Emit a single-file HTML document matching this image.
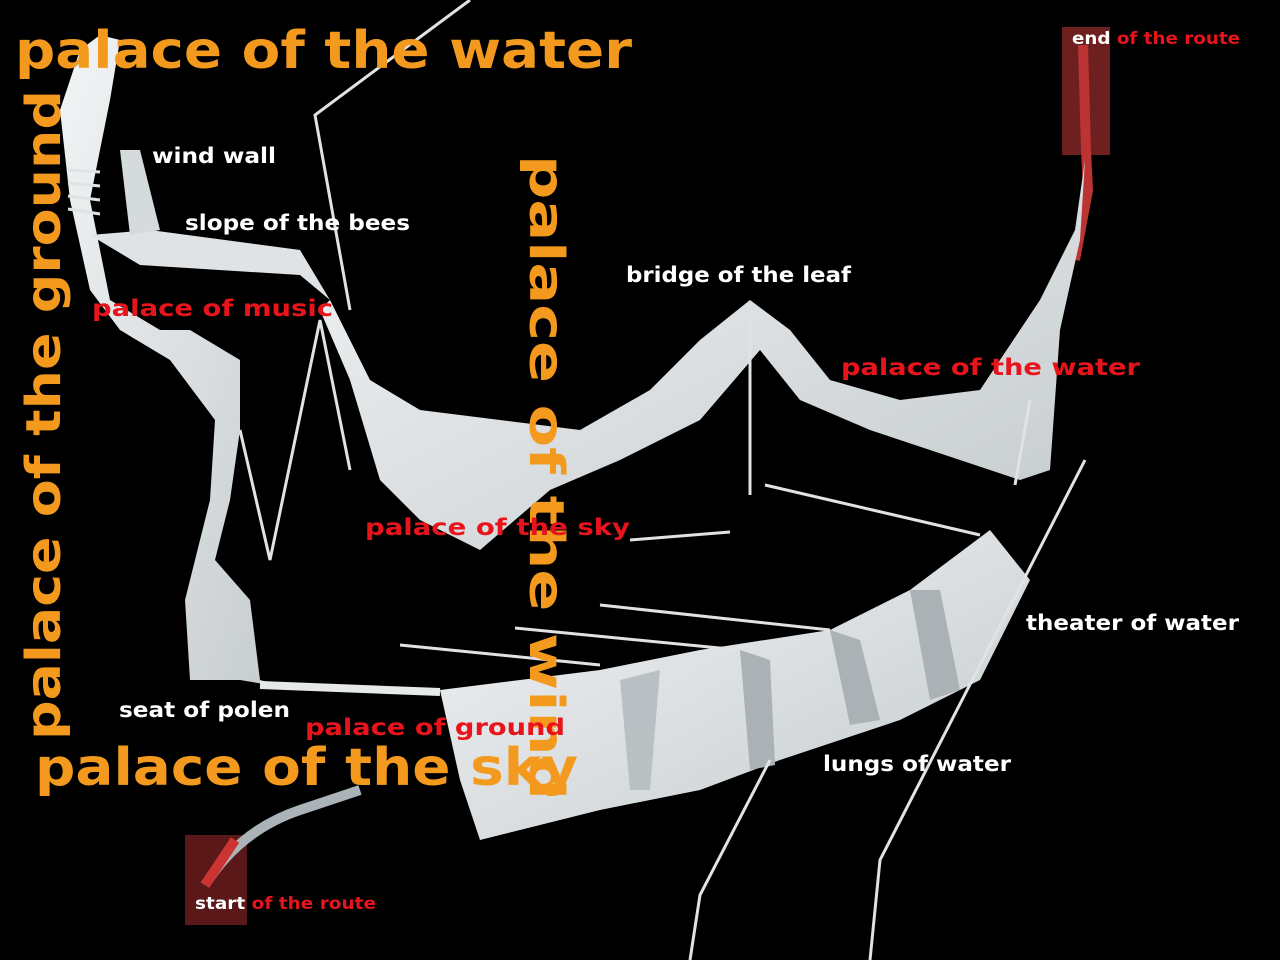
<!DOCTYPE html>
<html><head><meta charset="utf-8"><style>
html,body{margin:0;padding:0;background:#000;width:1280px;height:960px;overflow:hidden}
svg{display:block}
text{font-family:"DejaVu Sans","Liberation Sans",sans-serif;font-weight:bold}
.o{fill:#f39a1e}
.w{fill:#fff;font-size:21px}
.r{fill:#e8141c;font-size:23px}
</style></head><body>
<svg width="1280" height="960" viewBox="0 0 1280 960" xmlns="http://www.w3.org/2000/svg">
<defs>
<linearGradient id="g" x1="0" y1="0" x2="1" y2="1">
<stop offset="0" stop-color="#f2f4f5"/><stop offset="1" stop-color="#c4cacd"/></linearGradient>
</defs>
<rect width="1280" height="960" fill="#000"/>
<rect x="1062" y="27" width="48" height="128" fill="#6e1f1f"/>
<path d="M1083 45 L1086 150 L1088 190 L1075 260" stroke="#b33" stroke-width="10" fill="none"/>
<rect x="185" y="835" width="62" height="90" fill="#5a1818"/>
<path d="M205 885 Q240 830 300 810 Q330 800 360 790" stroke="#a9b3b8" stroke-width="10" fill="none"/>
<path d="M205 885 L235 840" stroke="#c33" stroke-width="10" fill="none"/>
<polygon fill="url(#g)" points="330,300 370,380 420,410 500,420 580,430 650,390 700,340 750,300 790,330 830,380 900,400 980,390 1040,300 1075,230 1085,160 1080,240 1060,330 1050,470 1020,480 930,450 870,430 800,400 760,350 700,420 620,460 550,490 480,550 420,520 380,480 350,380 320,310"/>
<polygon fill="url(#g)" points="190,330 240,360 240,430 230,500 215,560 250,600 260,680 300,690 240,680 190,680 185,600 210,500 215,420 170,360 120,330 90,290 70,200 60,110 80,50 100,35 120,40 110,100 90,200 110,300 160,330"/>
<polygon fill="#dfe3e5" points="90,235 150,230 300,250 330,300 300,275 140,265"/>
<polygon fill="#d5dadd" points="120,150 140,150 160,230 130,235"/>
<polygon fill="url(#g)" points="440,690 600,670 700,650 830,630 910,590 990,530 1030,580 980,680 900,720 780,760 700,790 600,810 480,840 460,780"/>
<polygon fill="#b9c0c4" points="620,680 660,670 650,790 630,790"/>
<polygon fill="#aab2b6" points="740,650 770,660 775,765 750,770"/>
<polygon fill="#aab2b6" points="830,630 860,640 880,720 850,725"/>
<polygon fill="#aab2b6" points="910,590 940,590 960,690 930,700"/>
<path d="M260,685 L440,692" stroke="#e6e9ea" stroke-width="8"/>
<g stroke="#dfe3e5" stroke-width="3" fill="none">
<path d="M470 0 L315 115 L350 310"/>
<path d="M765 485 L980 535"/>
<path d="M600 605 L830 630"/>
<path d="M515 628 L740 650"/>
<path d="M400 645 L600 665"/>
<path d="M630 540 L730 532"/>
<path d="M770 760 L700 895 L690 960"/>
<path d="M1085 460 L880 860 L870 960"/>
<path d="M240 430 L270 560 L320 320 L350 470"/>
<path d="M750 320 L750 495"/>
<path d="M1030 400 L1015 485"/>
<path d="M68 170 L100 172 M68 183 L100 186 M68 196 L100 200 M68 209 L100 214"/>
</g>
<text class="o" x="15" y="68" font-size="52" textLength="617" lengthAdjust="spacingAndGlyphs">palace of the water</text>
<text class="o" x="35" y="785" font-size="52" textLength="543" lengthAdjust="spacingAndGlyphs">palace of the sky</text>
<text class="o" font-size="48" transform="translate(60,740) rotate(-90)" textLength="650" lengthAdjust="spacingAndGlyphs">palace of the ground</text>
<text class="o" font-size="48" transform="translate(530,155) rotate(90)" textLength="645" lengthAdjust="spacingAndGlyphs">palace of the wind</text>
<text class="w" x="152" y="163" textLength="124" lengthAdjust="spacingAndGlyphs">wind wall</text>
<text class="w" x="185" y="230" textLength="225" lengthAdjust="spacingAndGlyphs">slope of the bees</text>
<text class="w" x="626" y="282" textLength="225" lengthAdjust="spacingAndGlyphs">bridge of the leaf</text>
<text class="w" x="1026" y="630" textLength="213" lengthAdjust="spacingAndGlyphs">theater of water</text>
<text class="w" x="119" y="717" textLength="171" lengthAdjust="spacingAndGlyphs">seat of polen</text>
<text class="w" x="823" y="771" textLength="188" lengthAdjust="spacingAndGlyphs">lungs of water</text>
<text class="r" x="92" y="316" textLength="241" lengthAdjust="spacingAndGlyphs">palace of music</text>
<text class="r" x="841" y="375" textLength="299" lengthAdjust="spacingAndGlyphs">palace of the water</text>
<text class="r" x="365" y="535" textLength="265" lengthAdjust="spacingAndGlyphs">palace of the sky</text>
<text class="r" x="305" y="735" textLength="260" lengthAdjust="spacingAndGlyphs">palace of ground</text>
<text x="1072" y="44" font-size="17" textLength="168" lengthAdjust="spacingAndGlyphs"><tspan fill="#fff">end </tspan><tspan fill="#e8141c">of the route</tspan></text>
<text x="195" y="909" font-size="17" textLength="181" lengthAdjust="spacingAndGlyphs"><tspan fill="#fff">start </tspan><tspan fill="#e8141c">of the route</tspan></text>
</svg>
</body></html>
